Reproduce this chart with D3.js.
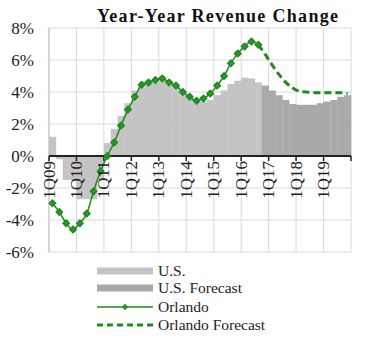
<!DOCTYPE html>
<html><head><meta charset="utf-8">
<script src="https://cdn.jsdelivr.net/npm/d3@7/dist/d3.min.js"></script>
<style>body{margin:0;background:#fff}svg{display:block}</style>
</head><body>
<svg id="c" width="379" height="347"></svg>
<script>
// Quarterly data, 1Q09 .. 4Q19 (44 quarters)
const quarterLabels = ["1Q09","1Q10","1Q11","1Q12","1Q13","1Q14","1Q15","1Q16","1Q17","1Q18","1Q19"];
const usActual = [1.2,-0.2,-1.5,-1.5,-2.7,-2.7,-2.7,-1.5,0.8,1.7,2.5,3.3,4.1,4.3,4.5,4.6,4.7,4.6,4.3,4.0,3.6,3.5,3.4,3.5,3.8,4.1,4.5,4.7,4.9,4.85,4.6];
const usForecast = [4.4,4.1,3.8,3.5,3.25,3.2,3.2,3.2,3.3,3.4,3.5,3.7,3.8];
const orlando = [-2.95,-3.5,-4.2,-4.6,-4.2,-3.6,-2.2,-0.95,0.0,0.85,1.9,2.9,3.7,4.45,4.6,4.75,4.85,4.6,4.4,4.0,3.7,3.45,3.6,3.9,4.4,5.0,5.8,6.4,6.85,7.15,6.95];
const orlandoForecast = [6.35,5.7,5.1,4.6,4.25,4.05,4.0,3.95,3.95,3.95,3.95,3.95,3.9];
const yTicks = [-6,-4,-2,0,2,4,6,8];
const legendItems = ["U.S.","U.S. Forecast","Orlando","Orlando Forecast"];

const svg = d3.select("#c");
const serif = "'Liberation Serif','Times New Roman',serif";
const x = d3.scaleLinear().domain([0,44]).range([49,351]);
const y = d3.scaleLinear().domain([-6,8]).range([252,28]);

// grid
const g = svg.append("g");
g.selectAll(".hg").data(yTicks).enter().append("line")
  .attr("x1",x(0)).attr("x2",x(44)).attr("y1",d=>y(d)).attr("y2",d=>y(d))
  .attr("stroke","#d9d9d9").attr("stroke-width",1);
g.selectAll(".vg").data(d3.range(0,45,4)).enter().append("line")
  .attr("x1",d=>x(d)).attr("x2",d=>x(d)).attr("y1",y(8)).attr("y2",y(-6))
  .attr("stroke","#d9d9d9").attr("stroke-width",1);
g.append("line").attr("x1",x(0)).attr("x2",x(0)).attr("y1",y(8)).attr("y2",y(-6)).attr("stroke","#bfbfbf");

// bars
const usAll = usActual.map((v,i)=>({i,v,f:false})).concat(usForecast.map((v,j)=>({i:usActual.length+j,v,f:true})));
svg.append("g").selectAll("rect").data(usAll).enter().append("rect")
  .attr("x",d=>x(d.i)).attr("width",d=>x(d.i+1)-x(d.i)+0.3)
  .attr("y",d=>y(Math.max(0,d.v))).attr("height",d=>Math.abs(y(d.v)-y(0)))
  .attr("fill",d=>d.f?"#a9a9a9":"#c4c4c4");

// zero axis
svg.append("line").attr("x1",x(0)).attr("x2",x(44)).attr("y1",y(0)).attr("y2",y(0))
  .attr("stroke","#222").attr("stroke-width",2);
svg.append("g").selectAll("line").data(d3.range(0,45,4)).enter().append("line")
  .attr("x1",d=>x(d)).attr("x2",d=>x(d)).attr("y1",y(0)).attr("y2",y(0)+5)
  .attr("stroke","#222").attr("stroke-width",1.5);

// Orlando lines
const green = "#1f8a1f";
const lineGen = d3.line().x(d=>x(d.i+0.5)).y(d=>y(d.v)).curve(d3.curveMonotoneX);
const orl = orlando.map((v,i)=>({i,v}));
const orlF = [{i:orlando.length-1,v:orlando[orlando.length-1]}].concat(orlandoForecast.map((v,j)=>({i:orlando.length+j,v})));
svg.append("path").datum(orlF).attr("d",lineGen).attr("fill","none")
  .attr("stroke",green).attr("stroke-width",3).attr("stroke-dasharray","7,4");
svg.append("path").datum(orl).attr("d",lineGen).attr("fill","none")
  .attr("stroke",green).attr("stroke-width",1.5);
const marker = d3.symbol().type(d3.symbolSquare).size(20);
svg.append("g").selectAll("path").data(orl).enter().append("path")
  .attr("d",marker).attr("transform",d=>`translate(${x(d.i+0.5)},${y(d.v)}) rotate(45)`)
  .attr("fill","#2a9a2a").attr("stroke",green).attr("stroke-width",1.6).attr("stroke-linejoin","round");

// y labels
svg.append("g").selectAll("text").data(yTicks).enter().append("text")
  .attr("x",34).attr("y",d=>y(d)).attr("dy","0.35em").attr("text-anchor","end")
  .attr("font-family",serif).attr("font-size",17).attr("fill","#222")
  .text(d=>d+"%");

// x labels
svg.append("g").selectAll("text").data(quarterLabels).enter().append("text")
  .attr("transform",(d,k)=>`translate(${x(k*4)+5.5},${y(0)+5}) rotate(-90)`)
  .attr("text-anchor","end").attr("font-family",serif).attr("font-size",17).attr("fill","#222")
  .text(d=>d);

// title
svg.append("text").attr("x",97).attr("y",22).attr("font-family",serif).attr("font-weight","bold")
  .attr("font-size",18).attr("fill","#111").attr("textLength",241).attr("lengthAdjust","spacing")
  .text("Year-Year Revenue Change");

// legend
const lg = svg.append("g");
const rowY = [271,288,307,325];
lg.selectAll("text").data(legendItems).enter().append("text")
  .attr("x",158).attr("y",(d,i)=>rowY[i]).attr("dy","0.35em")
  .attr("font-family",serif).attr("font-size",15.5).attr("fill","#222").text(d=>d);
lg.append("rect").attr("x",97).attr("y",rowY[0]-3.5).attr("width",56).attr("height",7).attr("fill","#c4c4c4");
lg.append("rect").attr("x",97).attr("y",rowY[1]-3.5).attr("width",56).attr("height",7).attr("fill","#a9a9a9");
lg.append("line").attr("x1",97).attr("x2",153).attr("y1",rowY[2]).attr("y2",rowY[2]).attr("stroke",green).attr("stroke-width",1.5);
lg.append("path").attr("d",d3.symbol().type(d3.symbolSquare).size(12)).attr("transform",`translate(125,${rowY[2]}) rotate(45)`).attr("fill","#2a9a2a").attr("stroke",green).attr("stroke-width",1);
lg.append("line").attr("x1",97).attr("x2",153).attr("y1",rowY[3]).attr("y2",rowY[3]).attr("stroke",green).attr("stroke-width",3).attr("stroke-dasharray","6,4");
</script>
</body></html>
